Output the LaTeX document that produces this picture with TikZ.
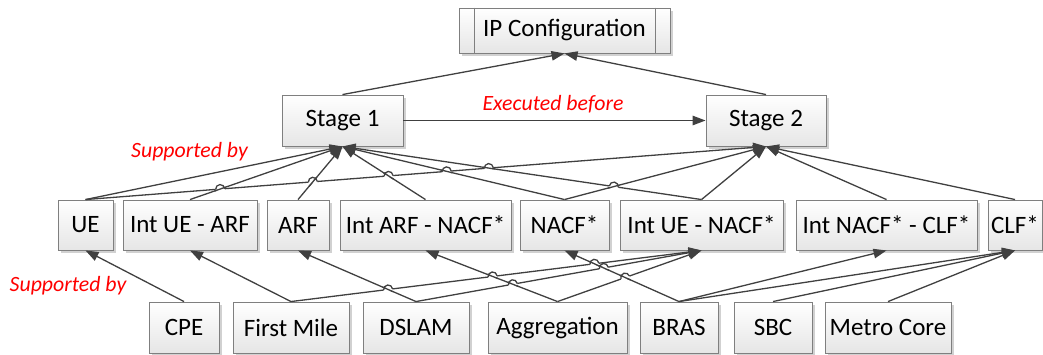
\documentclass[tikz,border=0pt]{standalone}
\usepackage{fontspec}
\setmainfont{Carlito}
\usetikzlibrary{arrows.meta,calc,shadows}
\definecolor{lc}{HTML}{404040}
\definecolor{bd}{HTML}{7F7F7F}
\tikzset{
  box/.style={draw=bd, line width=0.9pt, top color=white, bottom color=black!10,
    inner sep=0pt, font=\fontsize{25}{29}\selectfont,
    drop shadow={shadow xshift=2.5pt, shadow yshift=-2.5pt, fill=black!18, opacity=1}},
  ln/.style={draw=lc, line width=1.3pt},
  arr/.style={ln, -{Triangle[length=13pt,width=9.5pt]}},
  lbl/.style={text=red, font=\fontsize{21.8}{25}\selectfont\itshape}
}
\def\hr{4.5pt}
\newcommand\hopover[4]{%
  \coordinate (hx) at (intersection of #1--#2 and #3--#4);
  \draw[white, line width=3.2pt] ($(hx)!\hr!(#1)$) -- ($(hx)!\hr!(#2)$);
  \draw[ln] ($(hx)!6pt!(#3)$) -- ($(hx)!6pt!(#4)$);
  \draw[ln] let \p1=($(#2)-(#1)$), \n1={atan2(\y1,\x1)} in
    ($(hx)!\hr!(#1)$) arc[start angle=\n1+180, end angle=\n1, radius=\hr];
}
\begin{document}
\begin{tikzpicture}[x=1pt,y=1pt]
\useasboundingbox (0,0) rectangle (1043,-354);
% top
\node[box, minimum width=211pt, minimum height=45pt] (ip) at (564.5,-30.5) {IP Configuration};
\draw[draw=bd, line width=0.9pt] ([xshift=16pt]ip.north west) -- ([xshift=16pt]ip.south west);
\draw[draw=bd, line width=0.9pt] ([xshift=-15pt]ip.north east) -- ([xshift=-15pt]ip.south east);
\node[box, minimum width=121pt, minimum height=51pt] (s1) at (342.5,-120.5) {Stage 1};
\node[box, minimum width=120pt, minimum height=51pt] (s2) at (766,-120.5) {Stage 2};
% middle row
\node[box, minimum width=55pt, minimum height=50pt] (ue) at (85.5,-225) {UE};
\node[box, minimum width=134pt, minimum height=50pt] (iua) at (190,-225) {Int UE - ARF};
\node[box, minimum width=62pt, minimum height=50pt] (arf) at (298,-225) {ARF};
\node[box, minimum width=171pt, minimum height=50pt] (ian) at (425.5,-225) {Int ARF - NACF*};
\node[box, minimum width=89pt, minimum height=50pt] (nacf) at (564.5,-225) {NACF*};
\node[box, minimum width=163pt, minimum height=50pt] (iun) at (701.5,-225) {Int UE - NACF*};
\node[box, minimum width=181pt, minimum height=50pt] (inc) at (886.5,-225) {Int NACF* - CLF*};
\node[box, minimum width=54pt, minimum height=50pt] (clf) at (1015,-225) {CLF*};
% bottom row
\node[box, minimum width=70pt, minimum height=51pt] (cpe) at (184,-327.5) {CPE};
\node[box, minimum width=116pt, minimum height=51pt] (fm) at (291,-327.5) {First Mile};
\node[box, minimum width=106pt, minimum height=51pt] (dslam) at (416,-327.5) {DSLAM};
\node[box, minimum width=139pt, minimum height=51pt] (agg) at (557.5,-327.5) {Aggregation};
\node[box, minimum width=78pt, minimum height=51pt] (bras) at (679,-327.5) {BRAS};
\node[box, minimum width=78pt, minimum height=51pt] (sbc) at (773,-327.5) {SBC};
\node[box, minimum width=126pt, minimum height=51pt] (metro) at (888,-327.5) {Metro Core};
% labels
\node[lbl] (lex) at (553,-104) {Executed before};
\node[lbl] (lsu) at (189.5,-152) {Supported by};
\node[lbl] (lsl) at (68,-286) {Supported by};
% top connectors
\draw[arr] (s1.north) -- (ip.south);
\draw[arr] (s2.north) -- (ip.south);
\draw[arr] (s1.east) -- (s2.west);
% middle -> stages
\draw[arr] (ue.north) -- (s1.south);
\draw[arr] (ue.north) -- (s2.south);
\draw[arr] (iua.north) -- (s1.south);
\draw[arr] (arf.north) -- (s1.south);
\draw[arr] (ian.north) -- (s1.south);
\draw[arr] (nacf.north) -- (s1.south);
\draw[arr] (nacf.north) -- (s2.south);
\draw[arr] (iun.north) -- (s1.south);
\draw[arr] (iun.north) -- (s2.south);
\draw[arr] (inc.north) -- (s2.south);
\draw[arr] (clf.north) -- (s2.south);
% bottom -> middle
\draw[arr] (cpe.north) -- (ue.south);
\draw[arr] (fm.north) -- (iua.south);
\draw[arr] (fm.north) -- (iun.south);
\draw[arr] (dslam.north) -- (arf.south);
\draw[arr] (dslam.north) -- (iun.south);
\draw[arr] (agg.north) -- (ian.south);
\draw[arr] (agg.north) -- (iun.south);
\draw[arr] (bras.north) -- (nacf.south);
\draw[arr] (bras.north) -- (inc.south);
\draw[arr] (bras.north) -- (clf.south);
\draw[arr] (sbc.north) -- (clf.south);
\draw[arr] (metro.north) -- (clf.south);
% line hops
\hopover{ue.north}{s2.south}{iua.north}{s1.south}
\hopover{ue.north}{s2.south}{arf.north}{s1.south}
\hopover{ue.north}{s2.south}{ian.north}{s1.south}
\hopover{ue.north}{s2.south}{nacf.north}{s1.south}
\hopover{ue.north}{s2.south}{iun.north}{s1.south}
\hopover{s1.south}{iun.north}{nacf.north}{s2.south}
\hopover{fm.north}{iun.south}{dslam.north}{arf.south}
\hopover{fm.north}{iun.south}{agg.north}{ian.south}
\hopover{fm.north}{iun.south}{bras.north}{nacf.south}
\hopover{dslam.north}{iun.south}{agg.north}{ian.south}
\hopover{dslam.north}{iun.south}{bras.north}{nacf.south}
\hopover{agg.north}{iun.south}{bras.north}{nacf.south}
\end{tikzpicture}
\end{document}
